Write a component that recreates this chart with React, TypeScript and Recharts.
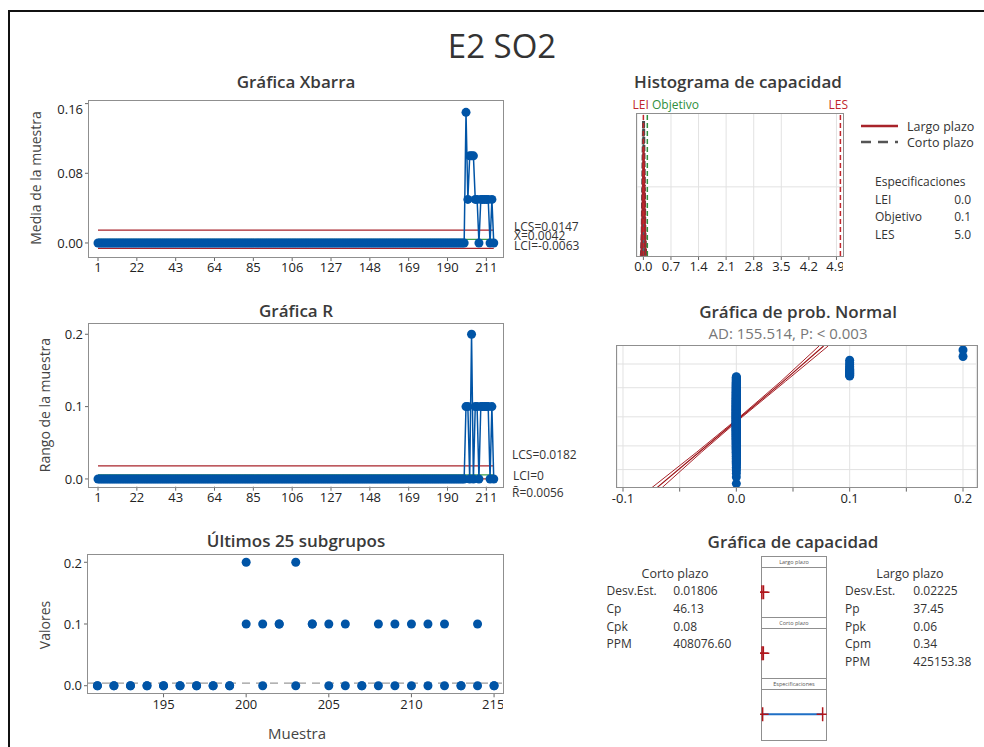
import React from "react";
import {
	ComposedChart,
	Line,
	Area,
	Scatter,
	Bar,
	XAxis,
	YAxis,
	CartesianGrid,
	ReferenceLine
} from "recharts";

const FONT = "'Open Sans', 'Noto Sans', sans-serif";
const BLUE = "#0054a6";
const RED = "#a8232a";
const GREEN = "#3a9d4a";
const TXT = "#333";
const GRID = "#e2e2e2";

// muestras 1-190: las dos lecturas son 0.0
const EARLY_SUBGROUPS = 190;
const lastSamples = [191, 192, 193, 194, 195, 196, 197, 198, 199, 200, 201, 202, 203, 204, 205, 206, 207, 208, 209, 210, 211, 212, 213, 214, 215];
const lastObs1 = [0, 0, 0, 0, 0, 0, 0, 0, 0, 0.2, 0.1, 0.1, 0.2, 0.1, 0.1, 0.1, 0, 0.1, 0.1, 0.1, 0.1, 0.1, 0, 0.1, 0];
const lastObs2 = [0, 0, 0, 0, 0, 0, 0, 0, 0, 0.1, 0, 0.1, 0, 0.1, 0, 0, 0, 0, 0, 0, 0, 0, 0, 0, 0];

const sampleTicks = [1, 22, 43, 64, 85, 106, 127, 148, 169, 190, 211];
const lastTicks = [195, 200, 205, 210, 215];

const XBAR_UCL = 0.0147;
const XBAR_CL = 0.0042;
const XBAR_LCL = -0.0063;
const R_UCL = 0.0182;
const R_CL = 0.0056;
const R_LCL = 0;

// histograma de capacidad
const histTicks = [0, 0.7, 1.4, 2.1, 2.8, 3.5, 4.2, 4.9];
const curveX = [-0.07, -0.05, -0.03, -0.015, 0.0042, 0.025, 0.04, 0.06, 0.08];
const curveLong = [0.03, 0.36, 5.5, 10.3, 17.9, 11.6, 5.1, 0.33, 0.02];
const curveShort = [0, 0.1, 3.6, 12.6, 22.1, 11.4, 3.1, 0.07, 0];
const binCenters = [0, 0.1, 0.2];
const binDensity = [5.7, 0.2, 0.03];
const LEI = 0.0;
const OBJETIVO = 0.1;
const LES = 5.0;

// prob. normal
const probTicks = [-0.1, -0.05, 0, 0.05, 0.1, 0.15, 0.2];
const probZGrid = [-2.326, -1.2816, 0, 1.2816, 2.326];
const fitZ = [-3.12, -1.56, 0, 1.56, 3.12];
const fitX = [-0.07, -0.0329, 0.0042, 0.0413, 0.077];
const ciLowX = [-0.0745, -0.035, 0.003, 0.0393, 0.073];
const ciHighX = [-0.0655, -0.0308, 0.0054, 0.0433, 0.081];

// capacidad
const shortLabels = ["Desv.Est.", "Cp", "Cpk", "PPM"];
const shortValues = ["0.01806", "46.13", "0.08", "408076.60"];
const longLabels = ["Desv.Est.", "Pp", "Ppk", "Cpm", "PPM"];
const longValues = ["0.02225", "37.45", "0.06", "0.34", "425153.38"];
const longInterval = [-0.0626, 0.071];
const shortInterval = [-0.05, 0.0584];

const obs1 = [...Array.from({ length: EARLY_SUBGROUPS }, () => 0), ...lastObs1];
const obs2 = [...Array.from({ length: EARLY_SUBGROUPS }, () => 0), ...lastObs2];
const subgroups = obs1.map((a, i) => ({
	sample: i + 1,
	mean: (a + obs2[i]) / 2,
	range: Math.abs(a - obs2[i])
}));
const lastPoints = lastSamples.flatMap((s, i) => [
	{ sample: s, value: lastObs1[i] },
	{ sample: s, value: lastObs2[i] }
]);

function invNorm(p: number): number {
	const a = [-39.69683028665376, 220.9460984245205, -275.9285104469687, 138.357751867269, -30.66479806614716, 2.506628277459239];
	const b = [-54.47609879822406, 161.5858368580409, -155.6989798598866, 66.80131188771972, -13.28068155288572];
	const c = [-0.007784894002430293, -0.3223964580411365, -2.400758277161838, -2.549732539343734, 4.374664141464968, 2.938163982698783];
	const d = [0.007784695709041462, 0.3224671290700398, 2.445134137142996, 3.754408661907416];
	const tail = (q: number) =>
		(((((c[0] * q + c[1]) * q + c[2]) * q + c[3]) * q + c[4]) * q + c[5]) /
		((((d[0] * q + d[1]) * q + d[2]) * q + d[3]) * q + 1);
	if (p < 0.02425) return tail(Math.sqrt(-2 * Math.log(p)));
	if (p > 1 - 0.02425) return -tail(Math.sqrt(-2 * Math.log(1 - p)));
	const q = p - 0.5;
	const r = q * q;
	return (
		((((((a[0] * r + a[1]) * r + a[2]) * r + a[3]) * r + a[4]) * r + a[5]) * q) /
		(((((b[0] * r + b[1]) * r + b[2]) * r + b[3]) * r + b[4]) * r + 1)
	);
}

const allValues = [...obs1, ...obs2].sort((x, y) => x - y);
const probPoints = allValues.map((v, i) => ({
	x: v,
	z: invNorm((i + 1 - 0.3) / (allValues.length + 0.4))
}));
const fitLine = fitZ.map((z, i) => ({ x: fitX[i], z }));
const ciLow = fitZ.map((z, i) => ({ x: ciLowX[i], z }));
const ciHigh = fitZ.map((z, i) => ({ x: ciHighX[i], z }));

const histData = [
	...curveX.map((x, i) => ({ x, long: curveLong[i], short: curveShort[i] })),
	...binCenters.map((x, i) => ({ x, hist: binDensity[i] }))
].sort((p, q) => p.x - q.x);

type Rect = { x0: number; y0: number; x1: number; y1: number };
const YW = 60;
const XH = 30;
const tickStyle = { fill: "#222", fontSize: 13, fontFamily: FONT };

const Txt = ({
	x,
	y,
	children,
	size = 13,
	color = TXT,
	weight = 400,
	anchor = "middle",
	rotate = false
}: {
	x: number;
	y: number;
	children: React.ReactNode;
	size?: number;
	color?: string;
	weight?: number;
	anchor?: "start" | "middle" | "end";
	rotate?: boolean;
}) => {
	const tx = anchor === "middle" ? "-50%" : anchor === "end" ? "-100%" : "0";
	return (
		<div
			style={{
				position: "absolute",
				left: x,
				top: y,
				fontSize: size,
				color,
				fontWeight: weight,
				lineHeight: 1.2,
				whiteSpace: "nowrap",
				transform: `translate(${tx}, -50%)${rotate ? " rotate(-90deg)" : ""}`
			}}>
			{children}
		</div>
	);
};

const Frame = ({ r }: { r: Rect }) => (
	<div
		style={{
			position: "absolute",
			left: r.x0 - 1,
			top: r.y0 - 1,
			width: r.x1 - r.x0 + 2,
			height: r.y1 - r.y0 + 2,
			border: "1.5px solid #8f8f8f",
			boxSizing: "border-box",
			pointerEvents: "none"
		}}
	/>
);

const Panel = ({ r, children }: { r: Rect; children: React.ReactNode }) => (
	<div style={{ position: "absolute", left: r.x0 - YW, top: r.y0 }}>
		{children}
	</div>
);

const chartSize = (r: Rect) => ({
	width: r.x1 - r.x0 + YW,
	height: r.y1 - r.y0 + XH,
	margin: { top: 0, right: 0, bottom: 0, left: 0 }
});

const xbarRect: Rect = { x0: 89, y0: 100.7, x1: 503, y1: 256.7 };
const rRect: Rect = { x0: 89, y0: 324, x1: 503, y1: 486.7 };
const lastRect: Rect = { x0: 88.3, y0: 555, x1: 503.3, y1: 693.3 };
const histRect: Rect = { x0: 636.7, y0: 114, x1: 843.3, y1: 256 };
const probRect: Rect = { x0: 617.3, y0: 345.7, x1: 976.7, y1: 487.3 };

const Cross = (props: any) => {
	const { cx, cy } = props;
	return (
		<g stroke="#b0151b" strokeWidth={1.5}>
			<line x1={cx - 6} x2={cx + 6} y1={cy} y2={cy} />
			<line x1={cx} x2={cx} y1={cy - 7} y2={cy + 7} />
		</g>
	);
};

const Dot = (r: number) => (props: any) =>
	<circle cx={props.cx} cy={props.cy} r={r} fill={BLUE} />;

const CapBox = ({
	top,
	title,
	points,
	segment
}: {
	top: number;
	title: string;
	points: number[];
	segment?: number[];
}) => {
	const w = 66.6;
	const h = 50.6;
	const pts = points.map((x) => ({ x, y: 0.5 }));
	return (
		<div
			style={{
				position: "absolute",
				left: 760.7,
				top,
				width: w,
				height: h + 11.7,
				border: "1.5px solid #8f8f8f",
				boxSizing: "border-box"
			}}>
			<div
				style={{
					height: 10,
					borderBottom: "1.5px solid #8f8f8f",
					fontSize: 5.5,
					lineHeight: "10px",
					textAlign: "center",
					color: "#555"
				}}>
				{title}
			</div>
			<div style={{ position: "absolute", left: -1.5, top: 10 }}>
				<ComposedChart width={w} height={h} margin={{ top: 0, right: 0, bottom: 0, left: 0 }}>
					<XAxis type="number" dataKey="x" domain={[-0.22, 5.33]} hide allowDataOverflow />
					<YAxis type="number" dataKey="y" domain={[0, 1]} hide allowDataOverflow />
					{segment && (
						<Line
							data={segment.map((x) => ({ x, y: 0.5 }))}
							dataKey="y"
							stroke="#1f6fc5"
							strokeWidth={2}
							dot={false}
							isAnimationActive={false}
						/>
					)}
					<Scatter data={pts} dataKey="y" shape={Cross} isAnimationActive={false} />
				</ComposedChart>
			</div>
		</div>
	);
};

export default function App() {
	return (
		<div
			style={{
				position: "absolute",
				left: 0,
				top: 0,
				width: 984,
				height: 747,
				background: "#fff",
				fontFamily: FONT,
				overflow: "hidden"
			}}>
			<div
				style={{
					position: "absolute",
					left: 8,
					top: 9.5,
					width: 990,
					height: 760,
					borderLeft: "2px solid #111",
					borderTop: "2px solid #111"
				}}
			/>
			<Txt x={502} y={46} size={33} color="#333">
				E2 SO2
			</Txt>

			{/* Gráfica Xbarra */}
			<Txt x={296} y={82} size={17} weight={600} color="#3a3a3a">
				Gráfica Xbarra
			</Txt>
			<Txt x={35.5} y={177.5} size={14} color="#444" rotate>
				Media de la muestra
			</Txt>
			<Panel r={xbarRect}>
				<ComposedChart data={subgroups} {...chartSize(xbarRect)}>
					<XAxis
						type="number"
						dataKey="sample"
						domain={[-3.87, 220]}
						ticks={sampleTicks}
						tick={tickStyle}
						tickSize={4}
						axisLine={false}
						height={XH}
						allowDataOverflow
					/>
					<YAxis
						type="number"
						domain={[-0.0161, 0.163]}
						ticks={[0, 0.08, 0.16]}
						tickFormatter={(v: number) => v.toFixed(2)}
						tick={tickStyle}
						tickSize={4}
						axisLine={false}
						width={YW}
						allowDataOverflow
					/>
					<ReferenceLine segment={[{ x: 1, y: XBAR_UCL }, { x: 215, y: XBAR_UCL }]} stroke={RED} strokeWidth={1.2} />
					<ReferenceLine segment={[{ x: 1, y: XBAR_LCL }, { x: 215, y: XBAR_LCL }]} stroke={RED} strokeWidth={1.2} />
					<ReferenceLine segment={[{ x: 1, y: XBAR_CL }, { x: 215, y: XBAR_CL }]} stroke={GREEN} strokeWidth={1.2} />
					<Line
						dataKey="mean"
						stroke={BLUE}
						strokeWidth={1.5}
						dot={Dot(4.5)}
						isAnimationActive={false}
					/>
				</ComposedChart>
			</Panel>
			<Frame r={xbarRect} />
			<Txt x={514} y={227} size={12} anchor="start">LCS=0.0147</Txt>
			<Txt x={514} y={236} size={12} anchor="start">X̄=0.0042</Txt>
			<Txt x={514} y={245.5} size={12} anchor="start">LCI=-0.0063</Txt>

			{/* Gráfica R */}
			<Txt x={296} y={311} size={17} weight={600} color="#3a3a3a">
				Gráfica R
			</Txt>
			<Txt x={45} y={405} size={14} color="#444" rotate>
				Rango de la muestra
			</Txt>
			<Panel r={rRect}>
				<ComposedChart data={subgroups} {...chartSize(rRect)}>
					<XAxis
						type="number"
						dataKey="sample"
						domain={[-3.87, 220]}
						ticks={sampleTicks}
						tick={tickStyle}
						tickSize={4}
						axisLine={false}
						height={XH}
						allowDataOverflow
					/>
					<YAxis
						type="number"
						domain={[-0.0107, 0.2142]}
						ticks={[0, 0.1, 0.2]}
						tickFormatter={(v: number) => v.toFixed(1)}
						tick={tickStyle}
						tickSize={4}
						axisLine={false}
						width={YW}
						allowDataOverflow
					/>
					<ReferenceLine segment={[{ x: 1, y: R_UCL }, { x: 215, y: R_UCL }]} stroke={RED} strokeWidth={1.2} />
					<ReferenceLine segment={[{ x: 1, y: R_CL }, { x: 215, y: R_CL }]} stroke={GREEN} strokeWidth={1.2} />
					<ReferenceLine segment={[{ x: 1, y: R_LCL }, { x: 215, y: R_LCL }]} stroke={RED} strokeWidth={1.2} />
					<Line
						dataKey="range"
						stroke={BLUE}
						strokeWidth={1.5}
						dot={Dot(4.5)}
						isAnimationActive={false}
					/>
				</ComposedChart>
			</Panel>
			<Frame r={rRect} />
			<Txt x={512} y={454.5} size={12} anchor="start">LCS=0.0182</Txt>
			<Txt x={513} y={476} size={12} anchor="start">LCI=0</Txt>
			<Txt x={512} y={492.5} size={12} anchor="start">R̄=0.0056</Txt>

			{/* Últimos 25 subgrupos */}
			<Txt x={296} y={541} size={17} weight={600} color="#3a3a3a">
				Últimos 25 subgrupos
			</Txt>
			<Txt x={45} y={625} size={14} color="#444" rotate>
				Valores
			</Txt>
			<Panel r={lastRect}>
				<ComposedChart {...chartSize(lastRect)}>
					<XAxis
						type="number"
						dataKey="sample"
						domain={[190.43, 215.54]}
						ticks={lastTicks}
						tick={tickStyle}
						tickSize={4}
						axisLine={false}
						height={XH}
						allowDataOverflow
					/>
					<YAxis
						type="number"
						dataKey="value"
						domain={[-0.0123, 0.2118]}
						ticks={[0, 0.1, 0.2]}
						tickFormatter={(v: number) => v.toFixed(1)}
						tick={tickStyle}
						tickSize={4}
						axisLine={false}
						width={YW}
						allowDataOverflow
					/>
					<ReferenceLine y={XBAR_CL} stroke="#9a9a9a" strokeDasharray="8 6" strokeWidth={1.2} />
					<Scatter data={lastPoints} shape={Dot(4.5)} isAnimationActive={false} />
				</ComposedChart>
			</Panel>
			<Frame r={lastRect} />
			<Txt x={297} y={733} size={15} color="#444">
				Muestra
			</Txt>

			{/* Histograma de capacidad */}
			<Txt x={738} y={82} size={17} weight={600} color="#3a3a3a">
				Histograma de capacidad
			</Txt>
			<Txt x={640.7} y={104.5} size={12} color="#c0272d">LEI</Txt>
			<Txt x={652} y={104.5} size={12} color="#2f8f3e" anchor="start">Objetivo</Txt>
			<Txt x={838.3} y={104.5} size={12} color="#c0272d">LES</Txt>
			<Panel r={histRect}>
				<ComposedChart data={histData} {...chartSize(histRect)}>
					<CartesianGrid stroke={GRID} horizontal={false} />
					<XAxis
						type="number"
						dataKey="x"
						domain={[-0.162, 5.081]}
						ticks={histTicks}
						tickFormatter={(v: number) => v.toFixed(1)}
						tick={tickStyle}
						tickSize={4}
						axisLine={false}
						height={XH}
						allowDataOverflow
					/>
					<YAxis
						type="number"
						domain={[0, 23.2]}
						ticks={[0, 11.3, 23.2]}
						tick={false}
						tickLine={false}
						axisLine={false}
						width={YW}
						allowDataOverflow
					/>
					<ReferenceLine y={11.3} stroke={GRID} />
					<Area
						dataKey="short"
						stroke="#4a4a4a"
						strokeWidth={3}
						strokeDasharray="6 2"
						fill="#4a4a4a"
						fillOpacity={0.9}
						connectNulls
						isAnimationActive={false}
					/>
					<Bar dataKey="hist" fill="#6b9bd6" barSize={3} isAnimationActive={false} />
					<Line
						dataKey="long"
						stroke={RED}
						strokeWidth={2}
						dot={false}
						connectNulls
						isAnimationActive={false}
					/>
					<ReferenceLine x={LEI} stroke="#c0272d" strokeDasharray="5 3" strokeWidth={1.5} />
					<ReferenceLine x={OBJETIVO} stroke="#2f8f3e" strokeDasharray="5 3" strokeWidth={1.5} />
					<ReferenceLine x={LES} stroke="#c0272d" strokeDasharray="5 3" strokeWidth={1.5} />
				</ComposedChart>
			</Panel>
			<Frame r={histRect} />

			{/* leyenda */}
			<svg style={{ position: "absolute", left: 858, top: 118 }} width={45} height={30}>
				<line x1={3} x2={40} y1={8} y2={8} stroke={RED} strokeWidth={2.5} />
				<line x1={3} x2={40} y1={24} y2={24} stroke="#555" strokeWidth={2.5} strokeDasharray="10 7" />
			</svg>
			<Txt x={907} y={125.5} size={12.5} anchor="start">Largo plazo</Txt>
			<Txt x={907} y={141.5} size={12.5} anchor="start">Corto plazo</Txt>
			<Txt x={875} y={181.5} size={12} anchor="start">Especificaciones</Txt>
			{["LEI", "Objetivo", "LES"].map((s, i) => (
				<Txt key={s} x={875} y={199.5 + i * 17.8} size={12} anchor="start">
					{s}
				</Txt>
			))}
			{[LEI, OBJETIVO, LES].map((v, i) => (
				<Txt key={i} x={971} y={199.5 + i * 17.8} size={12} anchor="end">
					{v.toFixed(1)}
				</Txt>
			))}

			{/* Gráfica de prob. Normal */}
			<Txt x={798} y={311.5} size={17} weight={600} color="#3a3a3a">
				Gráfica de prob. Normal
			</Txt>
			<Txt x={788} y={333} size={15} color="#777">
				AD: 155.514, P: &lt; 0.003
			</Txt>
			<Panel r={probRect}>
				<ComposedChart {...chartSize(probRect)}>
					<CartesianGrid stroke={GRID} horizontal={false} />
					<XAxis
						type="number"
						dataKey="x"
						domain={[-0.1053, 0.2118]}
						ticks={probTicks}
						tickFormatter={(v: number) =>
							Math.abs(Math.round(v * 100)) % 10 === 0 ? v.toFixed(1) : ""
						}
						tick={tickStyle}
						tickSize={4}
						axisLine={false}
						height={XH}
						allowDataOverflow
					/>
					<YAxis
						type="number"
						dataKey="z"
						domain={[-3.12, 3.12]}
						ticks={probZGrid}
						tick={false}
						tickLine={false}
						axisLine={false}
						width={YW}
						allowDataOverflow
					/>
					{probZGrid.map((z) => (
						<ReferenceLine key={z} y={z} stroke={GRID} />
					))}
					<Line data={ciLow} dataKey="z" stroke={RED} strokeWidth={1} dot={false} isAnimationActive={false} />
					<Line data={ciHigh} dataKey="z" stroke={RED} strokeWidth={1} dot={false} isAnimationActive={false} />
					<Line data={fitLine} dataKey="z" stroke="#9c1116" strokeWidth={1.2} dot={false} isAnimationActive={false} />
					<Scatter data={probPoints} dataKey="z" shape={Dot(4.5)} isAnimationActive={false} />
				</ComposedChart>
			</Panel>
			<Frame r={probRect} />

			{/* Gráfica de capacidad */}
			<Txt x={793} y={541.5} size={17} weight={600} color="#3a3a3a">
				Gráfica de capacidad
			</Txt>
			<Txt x={675} y={572.5} size={12.5}>Corto plazo</Txt>
			{shortLabels.map((s, i) => (
				<Txt key={s} x={606.5} y={590.7 + i * 17.9} size={12} anchor="start">
					{s}
				</Txt>
			))}
			{shortValues.map((s, i) => (
				<Txt key={s} x={673.3} y={590.7 + i * 17.9} size={12} anchor="start">
					{s}
				</Txt>
			))}
			<Txt x={910} y={572.5} size={12.5}>Largo plazo</Txt>
			{longLabels.map((s, i) => (
				<Txt key={s} x={845} y={590.7 + i * 17.9} size={12} anchor="start">
					{s}
				</Txt>
			))}
			{longValues.map((s, i) => (
				<Txt key={s} x={913.3} y={590.7 + i * 17.9} size={12} anchor="start">
					{s}
				</Txt>
			))}
			<CapBox top={555.5} title="Largo plazo" points={longInterval} />
			<CapBox top={617} title="Corto plazo" points={shortInterval} />
			<CapBox top={678.3} title="Especificaciones" points={[LEI, LES]} segment={[LEI, LES]} />
		</div>
	);
}
